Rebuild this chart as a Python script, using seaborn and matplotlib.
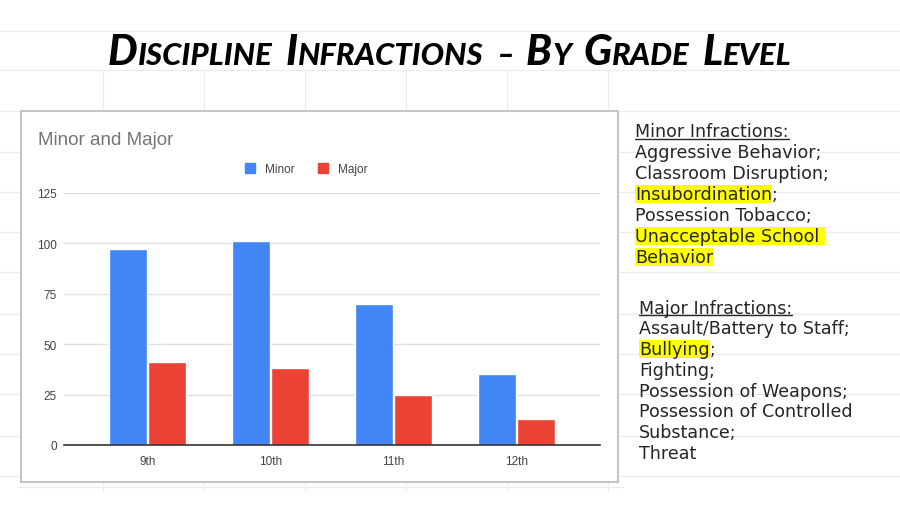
import numpy as np
import pandas as pd
import matplotlib
matplotlib.use('Agg')
import matplotlib.pyplot as plt
import seaborn as sns
from matplotlib.lines import Line2D
from matplotlib.patches import Rectangle, Patch

# ---------------- data ----------------
grades = ['9th', '10th', '11th', '12th']
minor_counts = [97, 101, 70, 35]
major_counts = [41, 38, 25, 13]
series_names = ['Minor', 'Major']
series_colors = ['#4285F4', '#EA4335']
y_ticks = [0, 25, 50, 75, 100, 125]
chart_title = 'Minor and Major'
slide_title = 'Discipline Infractions – By Grade Level'
minor_header = 'Minor Infractions:'
minor_lines = [
    [('Aggressive Behavior;', False)],
    [('Classroom Disruption;', False)],
    [('Insubordination', True), (';', False)],
    [('Possession Tobacco;', False)],
    [('Unacceptable School ', True)],
    [('Behavior', True)],
]
major_header = 'Major Infractions:'
major_lines = [
    [('Assault/Battery to Staff;', False)],
    [('Bullying', True), (';', False)],
    [('Fighting;', False)],
    [('Possession of Weapons;', False)],
    [('Possession of Controlled', False)],
    [('Substance;', False)],
    [('Threat', False)],
]

W, H = 900, 506
sns.set_style('white')
plt.rcParams['font.family'] = ['Liberation Sans', 'DejaVu Sans']
fig = plt.figure(figsize=(9, 5.06), dpi=100)
renderer = fig.canvas.get_renderer()


def fx(px):
    return px / W


def fy(py):
    return 1 - py / H


# ---------------- spreadsheet background grid ----------------
grid_c = '#ebebeb'
for yy in [32, 71, 112, 153, 193, 233, 273, 315, 355, 395, 437, 477]:
    fig.add_artist(Line2D([0, 1], [fy(yy)] * 2, transform=fig.transFigure,
                          color=grid_c, lw=0.8, zorder=-3))
fig.add_artist(Line2D([fx(17), fx(623)], [fy(488)] * 2, transform=fig.transFigure,
                      color=grid_c, lw=0.8, zorder=-3))
for xx in [103, 204, 305, 406, 507, 608]:
    fig.add_artist(Line2D([fx(xx)] * 2, [fy(71), fy(492)], transform=fig.transFigure,
                          color=grid_c, lw=0.8, zorder=-3))

# ---------------- chart box ----------------
fig.add_artist(Rectangle((fx(21), fy(483)), fx(618) - fx(21), fy(112) - fy(483),
                         transform=fig.transFigure, facecolor='white',
                         edgecolor='#c4c4c4', lw=1.5, zorder=-1))

ax = fig.add_axes([fx(64), fy(446), fx(600) - fx(64), fy(194) - fy(446)])
ax.set_zorder(1)
ax.patch.set_alpha(0)

df = pd.DataFrame({
    'Grade': grades * 2,
    'Type': [series_names[0]] * len(grades) + [series_names[1]] * len(grades),
    'Count': minor_counts + major_counts,
})
sns.barplot(data=df, x='Grade', y='Count', hue='Type', order=grades,
            hue_order=series_names, palette=dict(zip(series_names, series_colors)),
            width=0.635, gap=0.03, saturation=1, legend=False, ax=ax)

ax.set_xlim(-0.68, 3.68)
ax.set_ylim(0, 125)
ax.set_yticks(y_ticks)
ax.yaxis.grid(True, color='#e0e0e0', lw=1)
ax.set_axisbelow(True)
for s in ['top', 'right', 'left']:
    ax.spines[s].set_visible(False)
ax.spines['bottom'].set_color('#333333')
ax.spines['bottom'].set_linewidth(1.2)
ax.tick_params(axis='both', length=0, labelsize=8.5, colors='#444444')
ax.tick_params(axis='y', pad=5)
ax.tick_params(axis='x', pad=7)
ax.set_xlabel('')
ax.set_ylabel('')

fig.legend(handles=[Patch(color=c) for c in series_colors], labels=series_names,
           loc='center', bbox_to_anchor=(fx(306), fy(170)), ncol=2, frameon=False,
           fontsize=8.5, handlelength=0.9, handleheight=0.9, columnspacing=2.0,
           handletextpad=0.8, labelcolor='#444444')

fig.text(fx(38), fy(141), chart_title, fontsize=13.5, color='#757575',
         va='center', ha='left')

# ---------------- slide title (small caps emulation) ----------------
title_font = dict(family=['Lato', 'DejaVu Sans'], weight='black', style='italic',
                  color='black')


def title_items():
    items = []
    words = slide_title.split(' ')
    for wi, word in enumerate(words):
        run, big = '', None
        for ch in word:
            b = ch.isupper()
            if big is None or b == big:
                run += ch.upper()
                big = b
            else:
                items.append((run, big))
                run, big = ch.upper(), b
        items.append((run, big))
        if wi < len(words) - 1:
            items.append((None, None))
    return items


def layout_title(big_size, x0, base_y, draw):
    small_size = big_size * 0.74
    x = x0
    texts = []
    for s, big in title_items():
        if s is None:
            x += big_size * 100 / 72 * 0.28
            continue
        t = fig.text(fx(x), fy(base_y), s, fontsize=big_size if big else small_size,
                     va='baseline', ha='left', **title_font)
        w = t.get_window_extent(renderer).width
        texts.append(t)
        x += w + 0.5
    if not draw:
        for t in texts:
            t.remove()
    return x - x0


trial = layout_title(20, 0, 65, False)
big = 20 * 684 / trial
layout_title(big, 108, 65, True)

# ---------------- right side text ----------------
body_font = dict(family=['DejaVu Sans'], color='#262626')
body_size = 12.6


def draw_line(x, y, pieces):
    for s, hl in pieces:
        kw = dict(fontsize=body_size, va='center', ha='left', **body_font)
        if hl:
            kw['bbox'] = dict(facecolor='#ffff00', edgecolor='none', pad=0.0)
        t = fig.text(fx(x), fy(y), s, **kw)
        x += t.get_window_extent(renderer).width
    return x


def draw_block(x, y0, header, lines, step):
    t = fig.text(fx(x), fy(y0), header, fontsize=body_size, va='center', ha='left',
                 **body_font)
    w = t.get_window_extent(renderer).width
    fig.add_artist(Line2D([fx(x), fx(x + w)], [fy(y0 + 7.5)] * 2,
                          transform=fig.transFigure, color='#262626', lw=1.0))
    for i, pieces in enumerate(lines):
        draw_line(x, y0 + step * (i + 1), pieces)


draw_block(635, 132, minor_header, minor_lines, 21.0)
draw_block(639, 308.5, major_header, major_lines, 20.8)

fig.savefig('out.png', dpi=100)
